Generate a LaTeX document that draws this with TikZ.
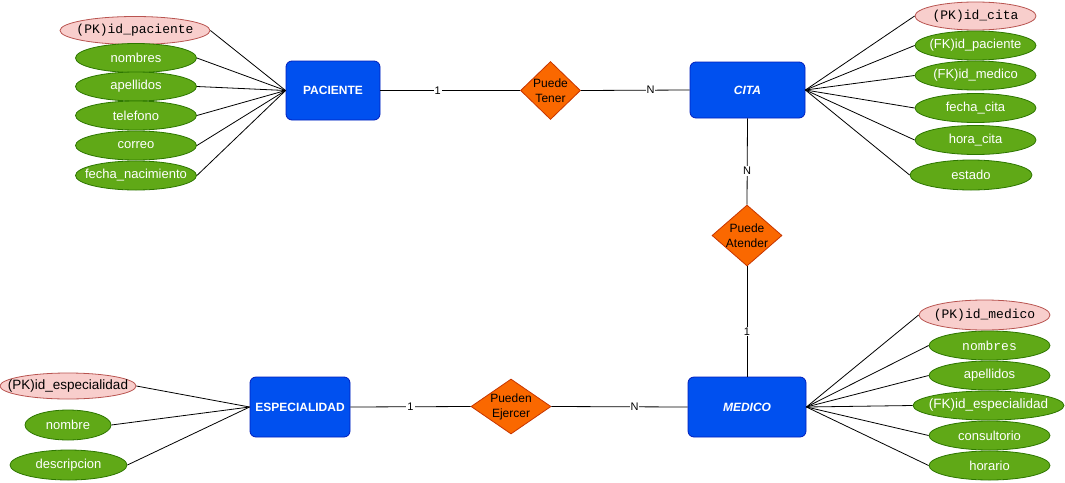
\documentclass[tikz,border=0pt]{standalone}
\usepackage{fontspec}
\setmainfont{Liberation Sans}
\setmonofont{Liberation Mono}
\usetikzlibrary{shapes.geometric}
\definecolor{entblue}{HTML}{0050EF}
\definecolor{entstroke}{HTML}{001DBC}
\definecolor{attrgreen}{HTML}{60A917}
\definecolor{attrstroke}{HTML}{2D7600}
\definecolor{pkpink}{HTML}{F8CECC}
\definecolor{pkstroke}{HTML}{B85450}
\definecolor{relorange}{HTML}{FA6800}
\definecolor{relstroke}{HTML}{C73500}
\newcommand\zw[1]{\makebox[0pt][c]{#1}}
\tikzset{
  entity/.style={rectangle, rounded corners=6pt, fill=entblue, draw=entstroke, line width=0.8pt, text=white, font=\bfseries\fontsize{12}{14}\selectfont, inner sep=0pt},
  attr/.style={ellipse, fill=attrgreen, draw=attrstroke, line width=0.8pt, text=white, font=\fontsize{13}{15}\selectfont, inner sep=0pt, minimum width=121pt, minimum height=29pt},
  pkattr/.style={ellipse, fill=pkpink, draw=pkstroke, line width=0.8pt, text=black, font=\ttfamily\fontsize{13}{15}\selectfont, inner sep=0pt, minimum height=28pt},
  rel/.style={diamond, fill=relorange, draw=relstroke, line width=0.8pt, inner sep=0pt},
  reltext/.style={align=center, font=\fontsize{12}{15}\selectfont, text=black, inner sep=0pt},
  card/.style={fill=white, inner sep=1pt, font=\fontsize{11}{13}\selectfont, text=black},
  conn/.style={draw=black, line width=0.8pt},
}
\begin{document}
\begin{tikzpicture}[x=1pt,y=-1pt]
\useasboundingbox (0,0) rectangle (1065,482);
% entities
\node[entity, minimum width=94pt, minimum height=59pt] (pac) at (333,90.5) {PACIENTE};
\node[entity, minimum width=115pt, minimum height=56pt] (cita) at (747.5,90) {\itshape CITA};
\node[entity, minimum width=118pt, minimum height=60pt] (med) at (747,407) {\itshape MEDICO};
\node[entity, minimum width=100pt, minimum height=60pt] (esp) at (300,407) {ESPECIALIDAD};
% relationships
\node[rel, minimum width=60pt, minimum height=58pt] (tener) at (550.5,90.5) {};
\node[reltext] (tenerT) at (tener) {Puede\\Tener};
\node[rel, minimum width=70pt, minimum height=61pt] (atender) at (747,235.5) {};
\node[reltext] (atenderT) at (atender) {Puede\\Atender};
\node[rel, minimum width=80pt, minimum height=55pt] (ejercer) at (511,406.5) {};
\node[reltext] (ejercerT) at (ejercer) {Pueden\\Ejercer};
% relationship connectors
\draw[conn] (pac.east) -- node[card, pos=0.41] {1} (tener.west);
\draw[conn] (tener.east) -- node[card, pos=0.64] {N} (cita.west);
\draw[conn] (cita.south) -- node[card, pos=0.61] {N} (atender.north);
\draw[conn] (atender.south) -- node[card, pos=0.59] {1} (med.north);
\draw[conn] (esp.east) -- node[card, pos=0.5] {1} (ejercer.west);
\draw[conn] (ejercer.east) -- node[card, pos=0.61] {N} (med.west);
% PACIENTE attributes
\node[pkattr, minimum width=150pt] (p0) at (135,30.5) {\zw{(PK)id\_paciente}};
\node[attr] (p1) at (136,58) {\zw{nombres}};
\node[attr] (p2) at (136,86.5) {\zw{apellidos}};
\node[attr] (p3) at (136,115.5) {\zw{telefono}};
\node[attr] (p4) at (136,145.5) {\zw{correo}};
\node[attr] (p5) at (136,175.5) {\zw{fecha\_nacimiento}};
\foreach \a in {p0,p1,p2,p3,p4,p5} \draw[conn] (\a.east) -- (pac.west);
% CITA attributes
\node[pkattr, minimum width=121pt] (c0) at (975.5,16) {\zw{(PK)id\_cita}};
\node[attr] (c1) at (975.5,45.5) {\zw{(FK)id\_paciente}};
\node[attr] (c2) at (975.5,75.5) {\zw{(FK)id\_medico}};
\node[attr] (c3) at (975.5,108) {\zw{fecha\_cita}};
\node[attr] (c4) at (975.5,140) {\zw{hora\_cita}};
\node[attr, minimum width=122pt, minimum height=30pt] (c5) at (971,175) {\zw{estado}};
\foreach \a in {c0,c1,c2,c3,c4,c5} \draw[conn] (cita.east) -- (\a.west);
% MEDICO attributes
\node[pkattr, minimum width=131pt, minimum height=30pt] (m0) at (984.5,315) {\zw{(PK)id\_medico}};
\node[attr, font=\ttfamily\fontsize{13}{15}\selectfont] (m1) at (989.5,345.5) {\zw{nombres}};
\node[attr] (m2) at (989.5,375.5) {\zw{apellidos}};
\node[attr, minimum width=151pt, font=\fontsize{13.5}{16}\selectfont] (m3) at (988.5,405.5) {\zw{(FK)id\_especialidad}};
\node[attr] (m4) at (989.5,435.5) {\zw{consultorio}};
\node[attr] (m5) at (989.5,465.5) {\zw{horario}};
\foreach \a in {m0,m1,m2,m3,m4,m5} \draw[conn] (med.east) -- (\a.west);
% ESPECIALIDAD attributes
\node[pkattr, minimum width=136pt, minimum height=26pt, font=\fontsize{13.5}{16}\selectfont] (e0) at (68,386) {\zw{(PK)id\_especialidad}};
\node[attr, minimum width=86pt, minimum height=30pt] (e1) at (68,425) {\zw{nombre}};
\node[attr, minimum width=117pt, minimum height=30pt] (e2) at (68.5,465) {\zw{descripcion}};
\foreach \a in {e0,e1,e2} \draw[conn] (\a.east) -- (esp.west);
\end{tikzpicture}
\end{document}
